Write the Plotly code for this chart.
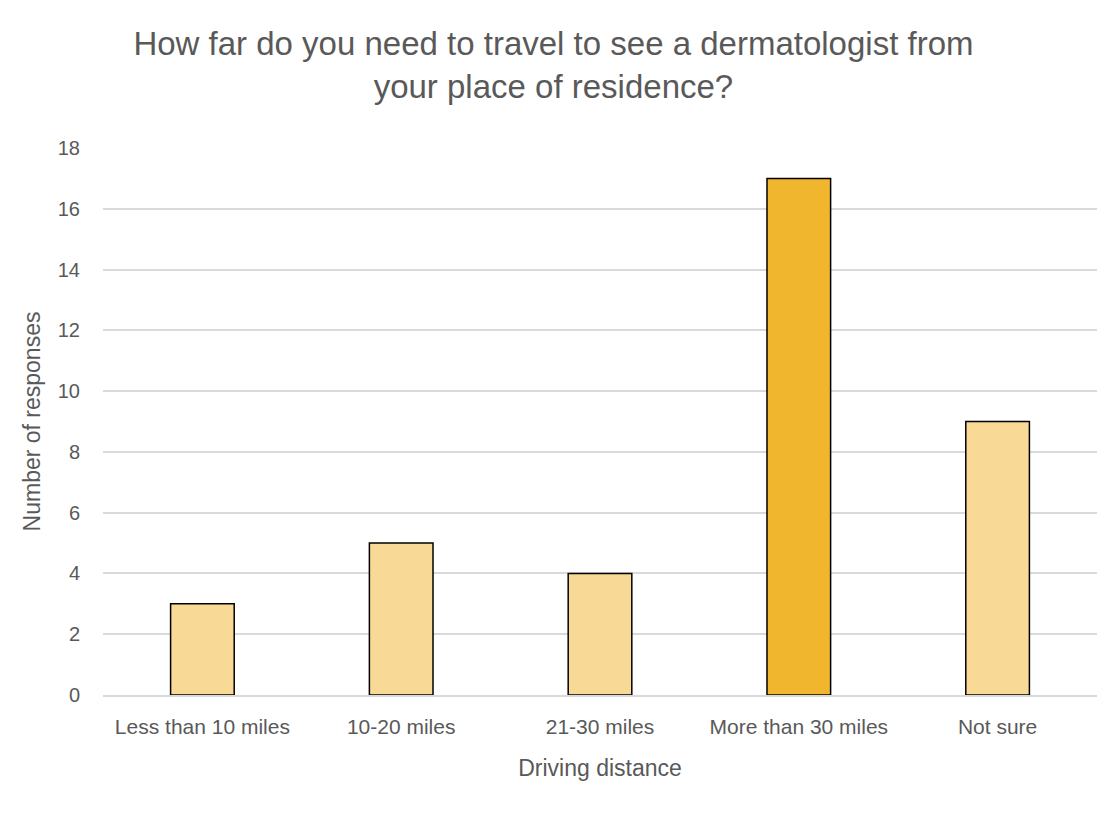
import plotly.graph_objects as go

distances = ['Less than 10 miles', '10-20 miles', '21-30 miles', 'More than 30 miles', 'Not sure']
responses = [3, 5, 4, 17, 9]
bar_colors = ['#F8DA96', '#F8DA96', '#F8DA96', '#F0B62D', '#F8DA96']
y_ticks = [0, 2, 4, 6, 8, 10, 12, 14, 16, 18]

grey = '#595959'
font_family = 'Liberation Sans, Arial, sans-serif'

fig = go.Figure(go.Bar(
    x=distances,
    y=responses,
    marker=dict(color=bar_colors, line=dict(color='#000000', width=1.5)),
    width=0.32,
))

# the page adds an 8px body margin, so margins are shifted by 8
fig.update_layout(
    width=1120,
    height=815,
    paper_bgcolor='white',
    plot_bgcolor='white',
    margin=dict(l=95, r=31, t=140, b=128, autoexpand=False),
    showlegend=False,
    title=dict(
        text='How far do you need to travel to see a dermatologist from<br>your place of residence?',
        x=0.487, xanchor='center', y=0.942, yanchor='top',
        font=dict(family=font_family, size=33, color=grey),
    ),
    font=dict(family=font_family, color=grey),
)

fig.update_xaxes(
    title=dict(text='Driving distance', font=dict(size=23, color=grey), standoff=23),
    tickfont=dict(size=21, color=grey),
    ticklabelstandoff=12,
    showline=True, linecolor='#D9D9D9', linewidth=1.5,
    ticks='',
    automargin=False,
)
fig.update_yaxes(
    title=dict(text='Number of responses', font=dict(size=23, color=grey), standoff=10),
    tickfont=dict(size=20, color=grey),
    ticklabelstandoff=22,
    range=[0, 18],
    tickvals=y_ticks,
    showgrid=True, gridcolor='#D9D9D9', gridwidth=1.5,
    zeroline=False,
    ticks='',
    automargin=False,
)

fig.write_html('out.html')
